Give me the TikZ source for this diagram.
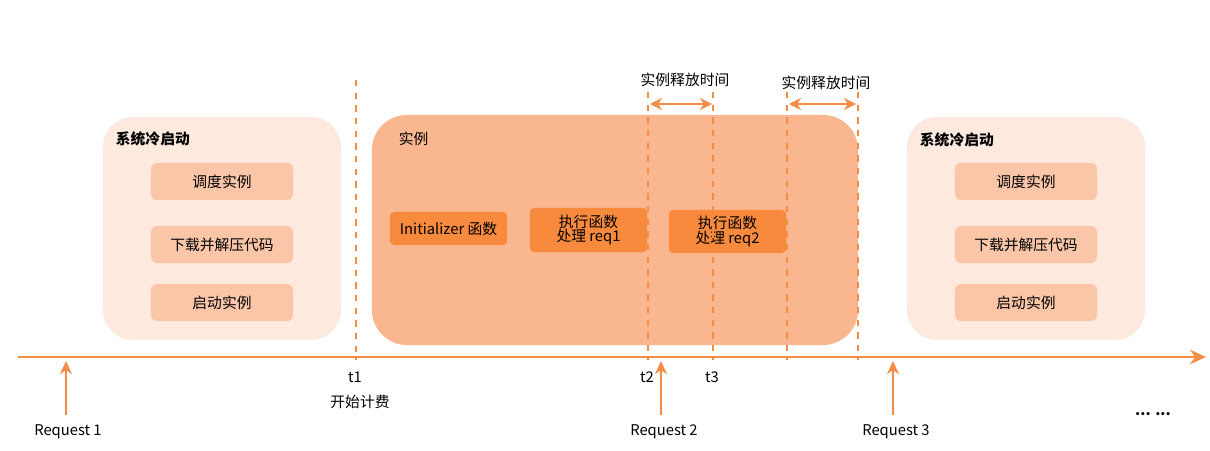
\documentclass[tikz,border=0pt]{standalone}
\usepackage{fontspec}
\setmainfont{Noto Sans CJK SC}
\usetikzlibrary{arrows.meta,positioning}
\definecolor{lineorange}{RGB}{245,140,68}
\definecolor{coldfill}{RGB}{253,233,221}
\definecolor{stepfill}{RGB}{250,198,167}
\definecolor{instfill}{RGB}{249,182,143}
\definecolor{funcfill}{RGB}{247,138,60}
\tikzset{
  coldbox/.style={fill=coldfill, rounded corners=0.75cm, minimum width=5.95cm, minimum height=5.575cm},
  stepbox/.style={fill=stepfill, rounded corners=0.15cm, minimum width=3.55cm, minimum height=0.925cm},
  instbox/.style={fill=instfill, rounded corners=0.875cm, minimum width=12.15cm, minimum height=5.75cm},
  funcbox/.style={fill=funcfill, rounded corners=0.1cm, minimum width=2.925cm, align=center, inner sep=0pt},
  guide/.style={lineorange, line width=1.4pt, dash pattern=on 4.5pt off 4.5pt},
  reqarrow/.style={lineorange, line width=1.5pt, -{Stealth[length=3.3mm, width=3mm]}},
  releasearrow/.style={lineorange, line width=1.8pt, {Stealth[length=3mm, width=3mm]}-{Stealth[length=3mm, width=3mm]}},
  title/.style={font=\fontsize{10.5}{12}\selectfont\bfseries, anchor=west}
}
\begin{document}
\begin{tikzpicture}[x=0.025cm, y=-0.025cm, font=\fontsize{10.5}{12}\selectfont]
  \useasboundingbox (0,0) rectangle (1210,451);

  % 左侧冷启动
  \node[coldbox] (cold1) at (222,228.5) {};
  \node[title] (cold1t) at (111,139) {系统冷启动};
  \node[stepbox] (sched1) at (222,181.5) {调度实例};
  \node[stepbox] (down1) at (222,244.5) {下载并解压代码};
  \node[stepbox] (start1) at (222,302.5) {启动实例};

  % 右侧冷启动
  \node[coldbox] (cold2) at (1026,228.5) {};
  \node[title] (cold2t) at (915,140) {系统冷启动};
  \node[stepbox] (sched2) at (1026,181.5) {调度实例};
  \node[stepbox] (down2) at (1026,244.5) {下载并解压代码};
  \node[stepbox] (start2) at (1026,302.5) {启动实例};

  % 实例
  \node[instbox] (inst) at (615,230) {};
  \node[title, font=\fontsize{10.5}{12}\selectfont] (instt) at (394,139) {实例};
  \node[funcbox, minimum height=0.825cm] (init) at (448.5,228.5) {Initializer 函数};
  \node[funcbox, minimum height=1.1cm] (req1) at (588.5,230) {执行函数\\[-2pt]处理 req1};
  \node[funcbox, minimum height=1.075cm] (req2) at (727.5,231.5) {执行函数\\[-2pt]处理 req2};

  % 时间轴
  \coordinate (axs) at (18,357);
  \coordinate (axe) at (1206,357);
  \draw[lineorange, line width=1.8pt, -{Stealth[length=4mm, width=3.6mm]}] (axs) -- (axe);

  % 虚线
  \coordinate (t1top) at (356,80);   \coordinate (t1bot) at (356,360);
  \coordinate (t2top) at (648,92);   \coordinate (t2bot) at (648,360);
  \coordinate (t3top) at (713,92);   \coordinate (t3bot) at (713,360);
  \coordinate (t4top) at (787,92);   \coordinate (t4bot) at (787,360);
  \coordinate (t5top) at (858,92);   \coordinate (t5bot) at (858,360);
  \foreach \t in {t1,t2,t3,t4,t5}
    \draw[guide] (\t top) -- (\t bot);

  % 实例释放时间
  \coordinate (rel1a) at (650,104); \coordinate (rel1b) at (712,104);
  \coordinate (rel2a) at (789,104); \coordinate (rel2b) at (856,104);
  \draw[releasearrow] (rel1a) -- (rel1b);
  \draw[releasearrow] (rel2a) -- (rel2b);
  \node (rel1t) at (685,80) {实例释放时间};
  \node (rel2t) at (826,83) {实例释放时间};

  % 时间点
  \node (t1) at (355,377) {t1};
  \node (bill) at (360,402) {开始计费};
  \node (t2) at (647,377) {t2};
  \node (t3) at (712,377) {t3};

  % 请求
  \coordinate (q1s) at (66,415); \coordinate (q1e) at (66,361);
  \coordinate (q2s) at (661,415); \coordinate (q2e) at (661,361);
  \coordinate (q3s) at (893,415); \coordinate (q3e) at (893,361);
  \draw[reqarrow] (q1s) -- (q1e);
  \draw[reqarrow] (q2s) -- (q2e);
  \draw[reqarrow] (q3s) -- (q3e);
  \node (q1) at (68,432) {Request 1};
  \node (q2) at (664,432) {Request 2};
  \node (q3) at (896,432) {Request 3};
  \node (more) at (1153,414) {\bfseries ... ...};
\end{tikzpicture}
\end{document}
